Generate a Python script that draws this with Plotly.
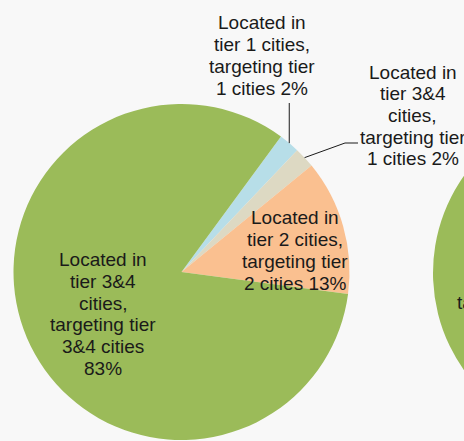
import math
import plotly.graph_objects as go

# ---- data ----
categories = [
    "Located in tier 1 cities, targeting tier 1 cities",
    "Located in tier 3&4 cities, targeting tier 1 cities",
    "Located in tier 2 cities, targeting tier 2 cities",
    "Located in tier 3&4 cities, targeting tier 3&4 cities",
]
# wrapped label lines (value appended to the last line)
label_lines = [
    ["Located in", "tier 1 cities,", "targeting tier", "1 cities {v}%"],
    ["Located in", "tier 3&4", "cities,", "targeting tier", "1 cities {v}%"],
    ["Located in", "tier 2 cities,", "targeting tier", "2 cities {v}%"],
    ["Located in", "tier 3&4", "cities,", "targeting tier", "3&4 cities", "{v}%"],
]
values = [2, 2, 13, 83]
# second (cut-off) pie on the right: only its green part is visible
values2 = [3, 3, 16, 78]
label2_lines = ["Located in", "tier 3&4", "cities,", "targeting tier", "3&4 cities", "{v}%"]

colors = ["#B7DEE8", "#DDD9C3", "#FAC090", "#9BBB59"]

# ---- layout geometry (pixels) ----
W, H = 820, 441
cx, cy, r = 181.5, 272, 168
cx2, cy2 = 601, 273
rotation = 36.3
LINE = 21.7
font = dict(family="Liberation Sans, Arial, sans-serif", size=19, color="#1a1a1a")


def dom(x, y, rad):
    return dict(x=[max(0, (x - rad) / W), min(1, (x + rad) / W)],
                y=[max(0, (H - y - rad) / H), min(1, (H - y + rad) / H)])


def px(x):
    return x / W


def py(y):
    return 1 - y / H


fig = go.Figure()
for vals, (x, y) in ((values, (cx, cy)), (values2, (cx2, cy2))):
    fig.add_trace(go.Pie(
        labels=categories, values=vals, sort=False, direction="clockwise",
        rotation=rotation, marker=dict(colors=colors, line=dict(width=0)),
        textinfo="none", hoverinfo="label+percent", showlegend=False,
        domain=dom(x, y, r),
    ))

# slice mid angles (clockwise from 12 o'clock)
total = sum(values)
mids = []
a = rotation
for v in values:
    span = 360 * v / total
    mids.append(a + span / 2)
    a += span


def edge(i):
    ang = math.radians(mids[i])
    return cx + r * math.sin(ang), cy - r * math.cos(ang)


shapes = []
ex, ey = edge(0)
shapes.append(dict(type="path", xref="paper", yref="paper",
                   path=f"M {px(ex)},{py(ey)} L {px(ex)},{py(103)}",
                   line=dict(color="#1a1a1a", width=1)))
ex, ey = edge(1)
shapes.append(dict(type="path", xref="paper", yref="paper",
                   path=f"M {px(ex)},{py(ey)} L {px(345)},{py(143)} L {px(358)},{py(143)}",
                   line=dict(color="#1a1a1a", width=1)))

annotations = []


def add_label(lines, v, lx, ly):
    n = len(lines)
    for k, t in enumerate(lines):
        yy = ly + (k - (n - 1) / 2) * LINE
        annotations.append(dict(
            x=px(lx), y=py(yy), xref="paper", yref="paper", showarrow=False,
            text=t.format(v=v), font=font, xanchor="center", yanchor="middle",
        ))


label_pos = [(261.5, 55.5), (412.5, 115.5), (295, 250.5), (103, 314)]
for i, (lx, ly) in enumerate(label_pos):
    add_label(label_lines[i], values[i], lx, ly)
add_label(label2_lines, values2[3], 510, 292)

fig.update_layout(
    width=W, height=H, margin=dict(l=0, r=0, t=0, b=0),
    paper_bgcolor="#F8F8F8", plot_bgcolor="#F8F8F8",
    shapes=shapes, annotations=annotations,
)
fig.write_html(
    "out.html",
    post_script="document.body.style.margin='0';"
                "document.body.style.overflow='hidden';"
                "document.documentElement.style.overflow='hidden';",
)
